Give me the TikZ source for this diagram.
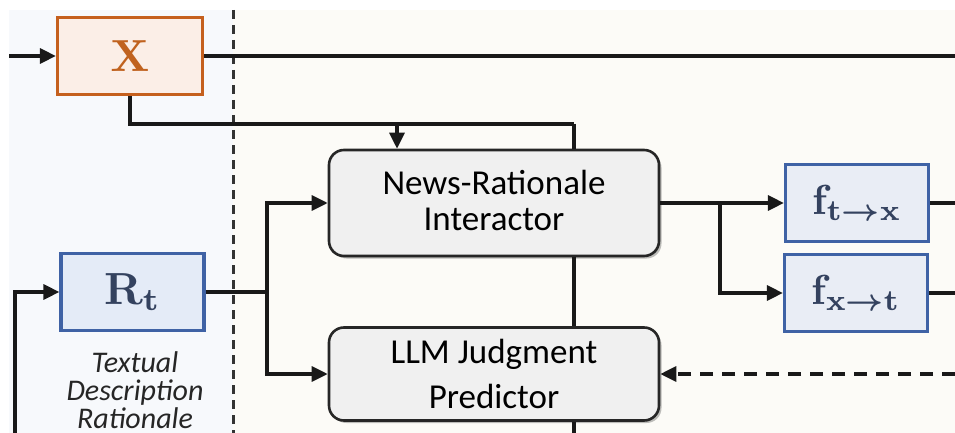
\documentclass[tikz,border=0pt]{standalone}
\usepackage{fontspec}
\setsansfont{Carlito}
\usetikzlibrary{arrows.meta,shadows}

\definecolor{leftbg}{HTML}{F7F9FC}
\definecolor{rightbg}{HTML}{FCFBF7}
\definecolor{xline}{HTML}{C5601E}
\definecolor{xfill}{HTML}{FBEEE7}
\definecolor{xtext}{HTML}{C0621F}
\definecolor{bline}{HTML}{3F62A5}
\definecolor{rfill}{HTML}{E4EBF7}
\definecolor{ffill}{HTML}{E9EDF5}
\definecolor{btext}{HTML}{34425F}
\definecolor{boxgray}{HTML}{F0F0F0}

% bold math set at 10pt and enlarged
\newcommand\mathlbl[2]{\scalebox{#1}{\boldmath$#2$}}
% invisible depth that lifts a text block inside its box
\newcommand\liftby[1]{\rule[-#1]{0pt}{0pt}}

\tikzset{
  conn/.style={line width=3.2pt, draw=black!90},
  arr/.style={conn, -{Triangle[length=16pt,width=15pt]}},
  xbox/.style={draw=xline, fill=xfill, line width=3.2pt, text=xtext,
    minimum width=145pt, minimum height=77pt, inner sep=0pt},
  bbox/.style={draw=bline, line width=3.2pt, text=btext,
    minimum width=143pt, minimum height=77pt, inner sep=0pt},
  modbox/.style={draw=black!85, fill=boxgray, line width=2.6pt, rounded corners=15pt,
    minimum width=330pt, align=center, inner sep=0pt,
    drop shadow={shadow xshift=2.5pt, shadow yshift=-2.5pt, fill=black, opacity=0.25}},
  sepline/.style={line width=3pt, draw=black!80, dash pattern=on 9pt off 6pt},
  lbl/.style={font=\sffamily\itshape\fontsize{30}{28}\selectfont, text=black!85,
    align=center, inner sep=0pt}
}

\begin{document}
\begin{tikzpicture}[x=1pt,y=-1pt]
\useasboundingbox (0,0) rectangle (955,433);

% two background panels and the dashed divider
\fill[leftbg] (9,10) rectangle (233,433);
\fill[rightbg] (233,10) rectangle (955,433);
\draw[sepline] (233,10) -- (233,433);

% inputs
\node[xbox] (X) at (130,56) {\mathlbl{4.5}{\mathbf{X}}};
\node[bbox, fill=rfill] (Rt) at (132.5,292) {\mathlbl{4.5}{\mathbf{R_t}}};
\node[lbl, anchor=north] (lab) at (135,351) {Textual\\Description\\Rationale};

% modules
\node[modbox, minimum height=106pt,
  font=\sffamily\fontsize{35}{36}\selectfont] (inter) at (494,203)
  {News-Rationale\\Interactor\liftby{6pt}};
\node[modbox, minimum height=93pt,
  font=\sffamily\fontsize{35}{45}\selectfont] (llm) at (494,374)
  {LLM Judgment\\Predictor};

% outputs
\node[bbox, fill=ffill] (ftx) at (857,203) {\mathlbl{4.2}{\mathbf{f}_{\mathbf{t}\to\mathbf{x}}}};
\node[bbox, fill=ffill] (fxt) at (856,293) {\mathlbl{4.2}{\mathbf{f}_{\mathbf{x}\to\mathbf{t}}}};

% free ends and junctions
\coordinate (inX) at (9,56);
\coordinate (outX) at (955,56);
\coordinate (tap) at (397,124);
\coordinate (trunk) at (574,124);
\coordinate (trunkEnd) at (574,433);
\coordinate (inR) at (15,433);
\coordinate (splitR) at (267,292);
\coordinate (splitF) at (720,203);
\coordinate (outF1) at (955,203);
\coordinate (outF2) at (955,293);
\coordinate (fb) at (955,374);

% connectors
\draw[arr] (inX) -- (X.west);
\draw[conn] (X.east) -- (outX);
\draw[conn] (X.south) |- (trunk);
\draw[arr] (tap) -- (tap |- inter.north);
\draw[conn] (trunk) -- (trunk |- inter.north);
\draw[conn] (trunk |- inter.south) -- (trunk |- llm.north);
\draw[conn] (trunk |- llm.south) -- (trunkEnd);

\draw[arr] (inR) |- (Rt.west);
\draw[conn] (Rt.east) -- (splitR);
\draw[arr] (splitR) |- (inter.west);
\draw[arr] (splitR) |- (llm.west);

\draw[conn] (inter.east) -- (splitF);
\draw[arr] (splitF) -- (ftx.west);
\draw[arr] (splitF) |- (fxt.west);
\draw[conn] (ftx.east) -- (outF1);
\draw[conn] (fxt.east) -- (outF2);

\draw[arr, dash pattern=on 13pt off 9pt] (fb) -- (llm.east);
\end{tikzpicture}
\end{document}
